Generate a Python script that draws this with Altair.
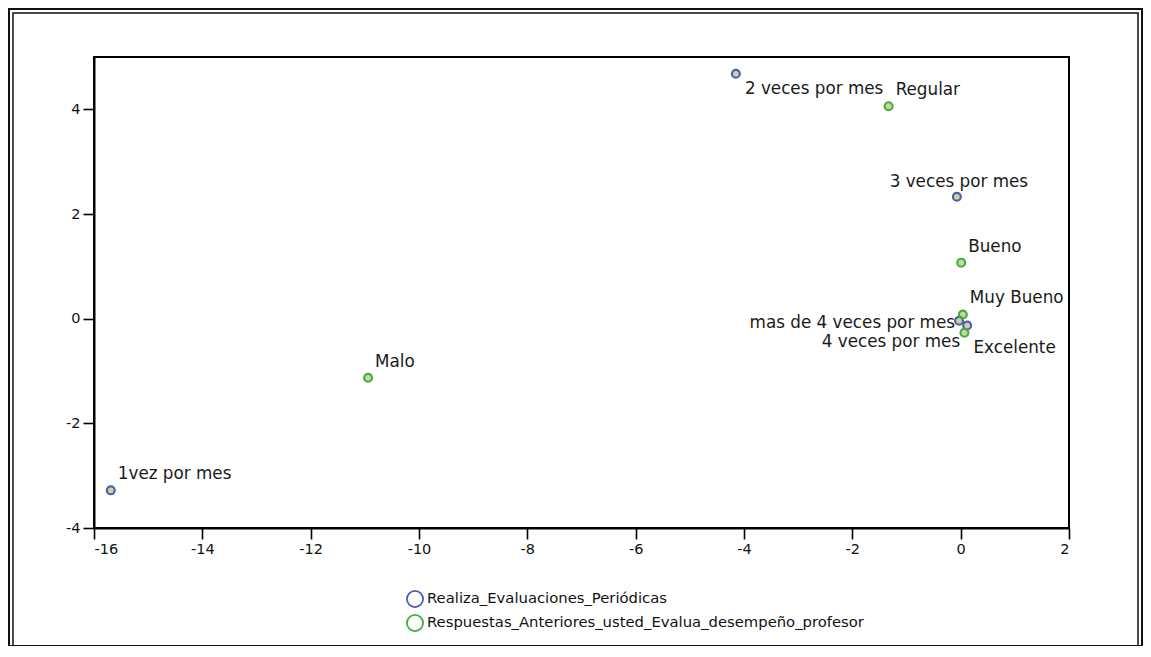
import altair as alt
import pandas as pd

# ---- data ----
labels = [
    "1vez por mes", "2 veces por mes", "3 veces por mes",
    "4 veces por mes", "mas de 4 veces por mes",
    "Malo", "Regular", "Bueno", "Muy Bueno", "Excelente",
]
dim1 = [-15.69, -4.15, -0.07, 0.12, -0.03, -10.94, -1.33, 0.01, 0.04, 0.07]
dim2 = [-3.28, 4.68, 2.33, -0.13, -0.04, -1.13, 4.06, 1.07, 0.08, -0.27]
series = [
    "Realiza_Evaluaciones_Periódicas"] * 5 + [
    "Respuestas_Anteriores_usted_Evalua_desempeño_profesor"] * 5

series_names = ["Realiza_Evaluaciones_Periódicas",
                "Respuestas_Anteriores_usted_Evalua_desempeño_profesor"]
series_colors = ["#4b5fb3", "#3cb043"]

x_ticks = [-16, -14, -12, -10, -8, -6, -4, -2, 0, 2]
y_ticks = [-4, -2, 0, 2, 4]

# label placement (style only)
placement = {
    "1vez por mes": "ur", "Malo": "ur", "Regular": "ur", "Bueno": "ur",
    "Muy Bueno": "ur", "2 veces por mes": "lr", "Excelente": "lr",
    "3 veces por mes": "up", "mas de 4 veces por mes": "l",
    "4 veces por mes": "ll",
}

df = pd.DataFrame({"label": labels, "x": dim1, "y": dim2, "serie": series})
df["pos"] = df["label"].map(placement)

FONT = "DejaVu Sans"
W, H = 975, 471

xenc = alt.X("x:Q", scale=alt.Scale(domain=[-16, 2], nice=False, zero=False),
             axis=alt.Axis(values=x_ticks, title=None, grid=False,
                           labelExpr="'' + datum.value"))
yenc = alt.Y("y:Q", scale=alt.Scale(domain=[-4, 5], nice=False, zero=False),
             axis=alt.Axis(values=y_ticks, title=None, grid=False,
                           labelExpr="'' + datum.value"))

base = alt.Chart(df)

fill_pts = base.mark_point(filled=True, size=40, fill="#d8d096", opacity=1,
                           shape="circle").encode(x=xenc, y=yenc)

ring_pts = base.mark_point(filled=False, size=62, strokeWidth=2.2, opacity=1,
                           shape="circle").encode(
    x="x:Q", y="y:Q",
    stroke=alt.Stroke("serie:N", scale=alt.Scale(domain=series_names, range=series_colors),
                      legend=alt.Legend(title=None, orient="none", legendX=312, legendY=533,
                                        symbolType="circle", symbolSize=260,
                                        symbolStrokeWidth=1.8, labelLimit=0,
                                        labelFont=FONT, labelFontSize=14.8,
                                        labelColor="#111", rowPadding=0, labelOffset=3)),
)

text_styles = {
    "ur": dict(align="left", dx=7, dy=-16),
    "lr": dict(align="left", dx=9, dy=15),
    "up": dict(align="center", dx=2, dy=-15),
    "l": dict(align="right", dx=-4, dy=2),
    "ll": dict(align="right", dx=-7, dy=17),
}

texts = []
for key, st in text_styles.items():
    texts.append(
        base.transform_filter(alt.datum.pos == key).mark_text(
            font=FONT, fontSize=16.8, color="#1a1a1a", baseline="middle", **st
        ).encode(x="x:Q", y="y:Q", text="label:N")
    )

one = alt.Chart(pd.DataFrame({"a": [0]}))
outer = one.mark_rect(fill="transparent", stroke="#111", strokeWidth=2).encode(
    x=alt.value(-85), x2=alt.value(1048), y=alt.value(-48), y2=alt.value(589))
inner = one.mark_rect(fill="transparent", stroke="#111", strokeWidth=1.5).encode(
    x=alt.value(-81), x2=alt.value(1044), y=alt.value(-44), y2=alt.value(640))

chart = alt.layer(outer, inner, fill_pts, ring_pts, *texts).properties(
    width=W, height=H,
    autosize=alt.AutoSizeParams(type="none"),
    padding={"left": 86, "top": 49, "right": 74, "bottom": 118},
    background="white",
).configure_view(stroke="#000", strokeWidth=2).configure_axis(
    domainColor="#000", domainWidth=2, tickColor="#000", tickWidth=1.6, tickSize=11,
    labelFont=FONT, labelFontSize=14.5, labelColor="#111", labelPadding=3,
)

chart.save("out.html", embed_options={"renderer": "svg", "actions": False})
